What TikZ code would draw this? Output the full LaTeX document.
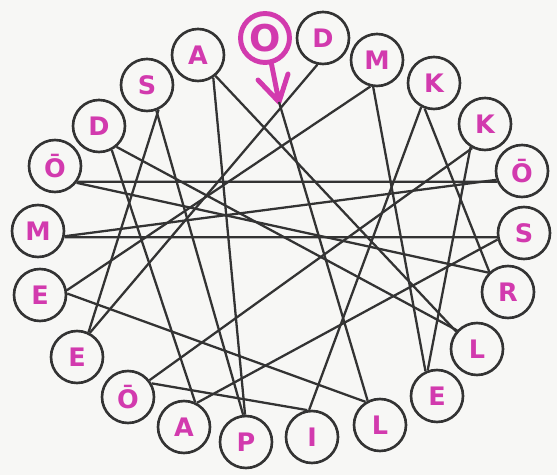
\documentclass[tikz,border=0pt]{standalone}
\usepackage{fontspec}
\setmainfont{DejaVu Sans}

\begin{document}
\begin{tikzpicture}[x=0.02cm, y=-0.02cm,
    letter/.style={circle, draw=borderColour, line width=1.5pt, minimum size=1.04cm,
        inner sep=0pt, text=letterColour, font=\bfseries\fontsize{14.5}{14.5}\selectfont},
    symbol/.style={circle, draw=letterColour, line width=2.8pt, minimum size=0.98cm,
        inner sep=0pt, text=letterColour, font=\bfseries\fontsize{21}{21}\selectfont},
    link/.style={draw=borderColour, line width=1.3pt}]

    \definecolor{borderColour}{HTML}{333333}
    \definecolor{letterColour}{HTML}{D23AAE}
    \definecolor{paperColour}{HTML}{F7F7F5}

    % Paper
    \fill[paperColour] (0,0) rectangle (557,475);

    % Symbol at the top: circle with the arrow pointing down
    \node[symbol] (oTop) at (265,38) {O};
    \coordinate (tip) at (279,102);
    \coordinate (barbL) at (258,80);
    \coordinate (barbR) at (288,74);
    \draw[letterColour, line width=2.8pt, line cap=round, line join=round]
        (oTop.-76) -- (tip) (barbL) -- (tip) -- (barbR);

    % Letters round the ring
    \foreach \name/\x/\y/\txt in {
        dTop/323/38/D, mTop/377/60/M, kOne/434/83/K, kTwo/485/124/K,
        oRight/522/171/Ō, sRight/524/233/S, rRight/508/292/R, lRight/477/349/L,
        eRight/437/396/E, lBottom/380/425/L, iBottom/312/437/I, pBottom/246/442/P,
        aBottom/184/427/A, oBottom/128/397/Ō, eLowLeft/77/357/E, eLeft/40/295/E,
        mLeft/38/231/M, oLeft/55/166/Ō, dLeft/99/126/D, sLeft/147/85/S, aTop/198/55/A}
        \node[letter] (\name) at (\x,\y) {\txt};

    % Connecting lines
    \foreach \a/\b in {
        oLeft.-35/oRight.203, oLeft.-38/rRight.135,
        mLeft.-13/sRight.189, mLeft.-11/oRight.199,
        kOne.-110/rRight.133, kOne.-118/iBottom.96,
        mTop.-104/eLeft.10, mTop.-98/eRight.115,
        kTwo.-122/eRight.110, kTwo.-118/oBottom.38,
        dTop.-102/eLowLeft.62,
        sLeft.-65/eLowLeft.65, sLeft.-70/pBottom.96,
        aTop.-56/pBottom.92, aTop.-50/lRight.140,
        dLeft.-62/aBottom.66, dLeft.-50/lRight.137,
        eLeft.3/lBottom.122, oBottom.30/iBottom.100,
        aBottom.62/sRight.194}
        \draw[link] (\a) -- (\b);
    \draw[link] (tip) -- (lBottom.117);

\end{tikzpicture}
\end{document}
